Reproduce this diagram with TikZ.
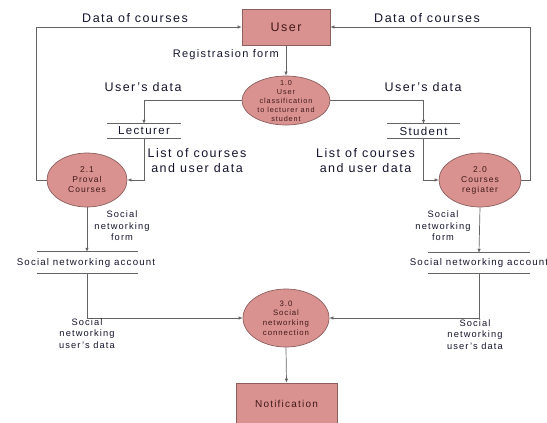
\documentclass[tikz,border=0pt]{standalone}
\usepackage{fontspec}
\setmainfont[LetterSpace=12]{Liberation Sans}
\usetikzlibrary{shapes.geometric,arrows.meta}
\definecolor{procfill}{RGB}{217,146,143}
\definecolor{procline}{RGB}{140,95,95}
\definecolor{flowline}{RGB}{100,100,100}
\definecolor{flowtextcol}{RGB}{20,20,45}
\definecolor{proctext}{RGB}{65,25,25}
\pgfdeclarelayer{edgelayer}
\pgfdeclarelayer{nodelayer}
\pgfsetlayers{edgelayer,nodelayer,main}
\tikzstyle{entity}=[rectangle, fill=procfill, draw=procline, line width=0.7pt, text=proctext, inner sep=0]
\tikzstyle{process}=[ellipse, fill=procfill, draw=procline, line width=0.7pt, text=proctext, align=center, inner sep=0]
\tikzstyle{store}=[inner sep=0, minimum height=14, text=flowtextcol]
\tikzstyle{storeline}=[draw=flowline, line width=0.7pt]
\tikzstyle{flow}=[draw=flowline, line width=0.7pt, -{Latex[length=4pt,width=3.5pt]}]
\tikzstyle{flowtext}=[text=flowtextcol, align=center, inner sep=0]

\begin{document}
\begin{tikzpicture}[x=1pt, y=-1pt]
			\useasboundingbox (0,0) rectangle (547,423);
			\begin{pgfonlayer}{nodelayer}
			\node [style=entity, minimum width=88, minimum height=36, font=\fontsize{12.5}{15}\selectfont] (user) at (286, 27) {User};
			\node [style=process, minimum width=88, minimum height=49, inner ysep=-6, font=\fontsize{7.3}{9}\selectfont] (p1) at (286, 100.5) {1.0\\User\\classification\\to lecturer and\\student};
			\node [style=store, font=\fontsize{11.5}{14}\selectfont] (lec) at (144, 131) {Lecturer};
			\node [style=store, font=\fontsize{11.5}{14}\selectfont] (stu) at (423.5, 131) {Student};
			\node [style=process, minimum width=80, minimum height=54, font=\fontsize{8.5}{10}\selectfont] (p21) at (87, 180) {2.1\\Proval\\Courses};
			\node [style=process, minimum width=82, minimum height=54, font=\fontsize{8.5}{10}\selectfont] (p20) at (480, 180) {2.0\\Courses\\regiater};
			\node [style=store, minimum height=21, font=\fontsize{9.7}{12}\selectfont] (sna1) at (86, 262.5) {Social networking account};
			\node [style=store, minimum height=20, font=\fontsize{9.7}{12}\selectfont] (sna2) at (479, 263) {Social networking account};
			\node [style=process, minimum width=86, minimum height=58, font=\fontsize{7.8}{9.7}\selectfont] (p3) at (286, 318) {3.0\\Social\\networking\\connection};
			\node [style=entity, minimum width=101, minimum height=42, font=\fontsize{10}{12}\selectfont] (note) at (286.5, 404) {Notification};
			\node [style=flowtext, font=\fontsize{12.5}{15}\selectfont] (datal) at (135, 18) {Data of courses};
			\node [style=flowtext, font=\fontsize{12.5}{15}\selectfont] (datar) at (427, 18) {Data of courses};
			\node [style=flowtext, anchor=east, font=\fontsize{11}{13}\selectfont] (regform) at (279, 55) {Registrasion form};
			\node [style=flowtext, font=\fontsize{12.5}{15}\selectfont] (udatal) at (143, 87) {User's data};
			\node [style=flowtext, font=\fontsize{12.5}{15}\selectfont] (udatar) at (423, 87) {User's data};
			\node [style=flowtext, font=\fontsize{12.5}{15}\selectfont] (listl) at (197, 160.5) {List of courses\\and user data};
			\node [style=flowtext, font=\fontsize{12.5}{15}\selectfont] (listr) at (365.5, 160.5) {List of courses\\and user data};
			\node [style=flowtext, font=\fontsize{9.3}{11.5}\selectfont] (forml) at (122, 226) {Social\\networking\\form};
			\node [style=flowtext, font=\fontsize{9.3}{11.5}\selectfont] (formr) at (443, 226) {Social\\networking\\form};
			\node [style=flowtext, font=\fontsize{9.3}{11.5}\selectfont] (sudl) at (87, 333.5) {Social\\networking\\user's data};
			\node [style=flowtext, font=\fontsize{9.3}{11.5}\selectfont] (sudr) at (475, 334.5) {Social\\networking\\user's data};
			\end{pgfonlayer}
			\begin{pgfonlayer}{edgelayer}
			\draw [style=storeline] ([xshift=-37]lec.north) -- ([xshift=37]lec.north) ([xshift=-37]lec.south) -- ([xshift=37]lec.south);
			\draw [style=storeline] ([xshift=-36.5]stu.north) -- ([xshift=36.5]stu.north) ([xshift=-36.5]stu.south) -- ([xshift=36.5]stu.south);
			\draw [style=storeline] ([xshift=-49]sna1.north) -- ([xshift=52]sna1.north) ([xshift=-49]sna1.south) -- ([xshift=52]sna1.south);
			\draw [style=storeline] ([xshift=-51]sna2.north) -- ([xshift=51]sna2.north) ([xshift=-51]sna2.south) -- ([xshift=51]sna2.south);
			\draw [style=flow] (user.south) -- (p1.north);
			\draw [style=flow] (p1.west) -| (lec.north);
			\draw [style=flow] (p1.east) -| (stu.north);
			\draw [style=flow] (lec.south) |- (p21.east);
			\draw [style=flow] (stu.south) |- (p20.west);
			\draw [style=flow] (p21.west) -- ++(-10, 0) |- (user.west);
			\draw [style=flow] (p20.east) -- ++(9, 0) |- (user.east);
			\draw [style=flow] (p21.south) -- ([xshift=1]sna1.north);
			\draw [style=flow] (p20.south) -- (sna2.north);
			\draw [style=flow] ([xshift=1]sna1.south) |- (p3.west);
			\draw [style=flow] (sna2.south) |- (p3.east);
			\draw [style=flow] (p3.south) -- (note.north);
			\end{pgfonlayer}
\end{tikzpicture}
\end{document}
